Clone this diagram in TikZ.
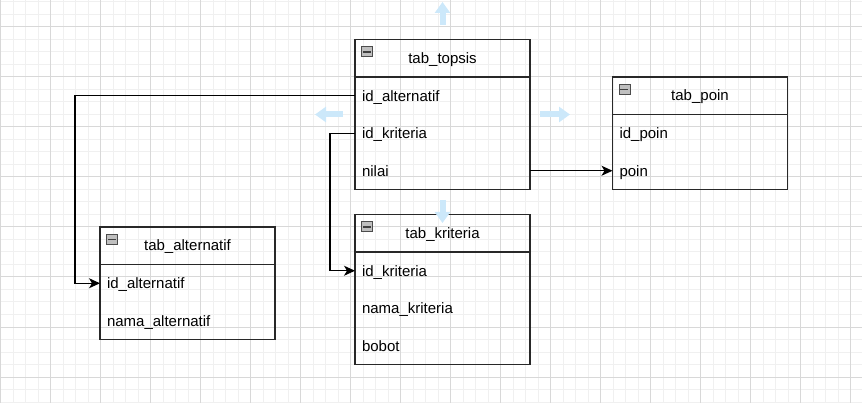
\documentclass[tikz,border=0pt]{standalone}
\usepackage{fontspec}
\setmainfont{Liberation Sans}
\usetikzlibrary{positioning,arrows.meta}
\definecolor{gridminor}{RGB}{240,240,240}
\definecolor{gridmajor}{RGB}{216,216,216}
\definecolor{tabline}{RGB}{40,40,40}
\definecolor{hintblue}{RGB}{204,232,250}
\begin{document}
\begin{tikzpicture}[x=1pt,y=-1pt,node distance=0pt,
		tabhead/.style={draw=tabline,line width=1.25pt,outer sep=0pt,inner sep=0pt,
			minimum width=175pt,minimum height=37.5pt,text height=12pt,text depth=2pt,
			font=\fontsize{15}{18}\selectfont},
		tabrow/.style={outer sep=0pt,inner ysep=0pt,inner xsep=7pt,text width=161pt,align=left,
			minimum height=37.5pt,text height=12.5pt,text depth=1pt,font=\fontsize{15}{18}\selectfont},
		tabbody/.style={draw=tabline,line width=1.25pt},
		minusbox/.style={draw=gray!60!black,fill=gray!50,line width=0.75pt,inner sep=0pt,
			minimum width=11pt,minimum height=10pt,anchor=north west,
			path picture={\draw[line width=1.5pt,black!75] ([xshift=1.5pt]path picture bounding box.west) -- ([xshift=-1.5pt]path picture bounding box.east);}},
		fk/.style={draw=black,line width=1.25pt,-{Stealth[length=11pt,width=10pt,inset=3pt]}},
		hint/.style={draw=hintblue,line width=6pt,-{Triangle[length=11pt,width=15pt]}}]
	\useasboundingbox (0,0) rectangle (862,403);
	% grid
	\foreach \i in {0,...,68} \draw[gridminor,line width=1pt] ({0.7+12.5*\i},0) -- ({0.7+12.5*\i},403);
	\foreach \j in {0,...,32} \draw[gridminor,line width=1pt] (0,{2+12.5*\j}) -- (862,{2+12.5*\j});
	\foreach \i in {0,...,17} \draw[gridmajor,line width=1pt] ({0.7+50*\i},0) -- ({0.7+50*\i},403);
	\foreach \j in {0,...,7} \draw[gridmajor,line width=1pt] (0,{27+50*\j}) -- (862,{27+50*\j});

	% tab_topsis
	\node[tabhead] (topsis) at (442.5,58.25) {tab\_topsis};
	\node[tabrow,below=of topsis] (topsis-alt) {id\_alternatif};
	\node[tabrow,below=of topsis-alt] (topsis-krit) {id\_kriteria};
	\node[tabrow,below=of topsis-krit] (topsis-nilai) {nilai};
	\draw[tabbody] (topsis-alt.north west) rectangle (topsis-nilai.south east);
	\node[minusbox] (topsis-min) at ([xshift=6pt,yshift=-7pt]topsis.north west) {};

	% tab_poin
	\node[tabhead] (poin) at (700,95.75) {tab\_poin};
	\node[tabrow,below=of poin] (poin-id) {id\_poin};
	\node[tabrow,below=of poin-id] (poin-poin) {poin};
	\draw[tabbody] (poin-id.north west) rectangle (poin-poin.south east);
	\node[minusbox] (poin-min) at ([xshift=6pt,yshift=-7pt]poin.north west) {};

	% tab_alternatif
	\node[tabhead] (alt) at (187.5,245.75) {tab\_alternatif};
	\node[tabrow,below=of alt] (alt-id) {id\_alternatif};
	\node[tabrow,below=of alt-id] (alt-nama) {nama\_alternatif};
	\draw[tabbody] (alt-id.north west) rectangle (alt-nama.south east);
	\node[minusbox] (alt-min) at ([xshift=6pt,yshift=-7pt]alt.north west) {};

	% tab_kriteria
	\node[tabhead] (krit) at (442.5,233.25) {tab\_kriteria};
	\node[tabrow,below=of krit] (krit-id) {id\_kriteria};
	\node[tabrow,below=of krit-id] (krit-nama) {nama\_kriteria};
	\node[tabrow,below=of krit-nama] (krit-bobot) {bobot};
	\draw[tabbody] (krit-id.north west) rectangle (krit-bobot.south east);
	\node[minusbox] (krit-min) at ([xshift=6pt,yshift=-7pt]krit.north west) {};

	% relations
	\draw[fk] (topsis-alt.west) -| ([xshift=-25pt]alt-id.west) -- (alt-id.west);
	\draw[fk] (topsis-krit.west) -| ([xshift=-25pt]krit-id.west) -- (krit-id.west);
	\draw[fk] (topsis-nilai.east) -- (poin-poin.west);

	% hover hints
	\draw[hint] ([yshift=14.5pt]topsis.north) -- ([yshift=37.5pt]topsis.north);
	\draw[hint] ([yshift=-10.5pt]topsis-nilai.south) -- ([yshift=-33.5pt]topsis-nilai.south);
	\draw[hint] ([xshift=-12pt]topsis-alt.south west) -- ([xshift=-40pt]topsis-alt.south west);
	\draw[hint] ([xshift=10pt]topsis-alt.south east) -- ([xshift=40pt]topsis-alt.south east);
\end{tikzpicture}
\end{document}
